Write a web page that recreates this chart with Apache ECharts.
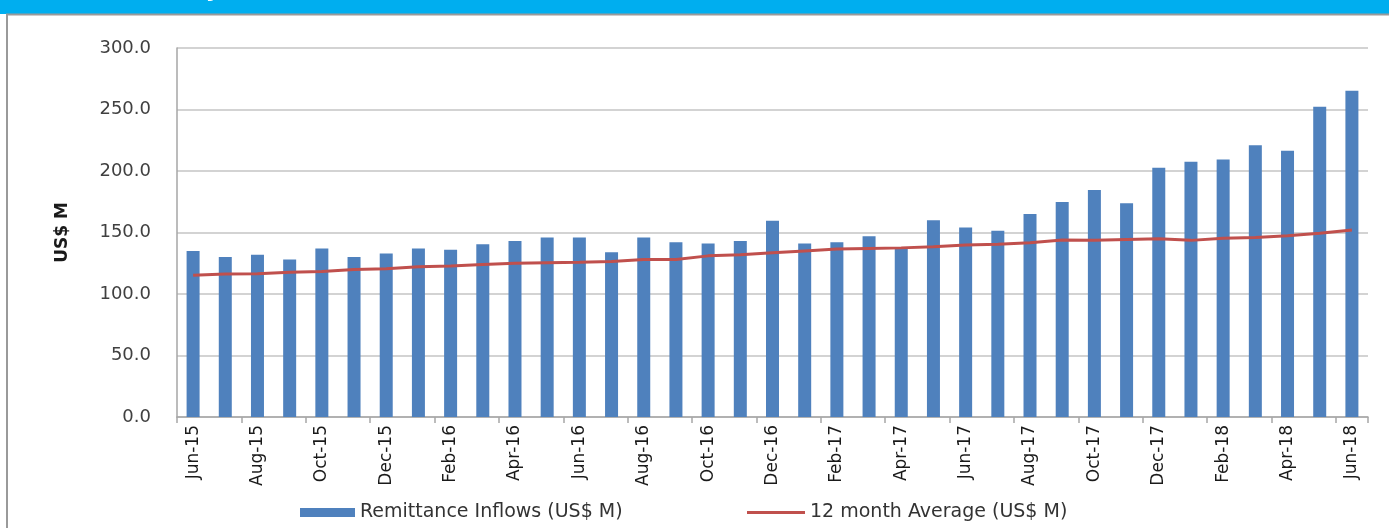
<!DOCTYPE html>
<html>
<head>
<meta charset="utf-8">
<script src="https://cdn.jsdelivr.net/npm/echarts@6/dist/echarts.min.js"></script>
<style>
  html, body { margin: 0; padding: 0; background: #fff; }
  #chart { width: 1389px; height: 528px; }
</style>
</head>
<body>
<div id="chart"></div>
<script>
// months shown on the x axis
const months = [
  'Jun-15', 'Jul-15', 'Aug-15', 'Sep-15', 'Oct-15', 'Nov-15', 'Dec-15',
  'Jan-16', 'Feb-16', 'Mar-16', 'Apr-16', 'May-16', 'Jun-16', 'Jul-16',
  'Aug-16', 'Sep-16', 'Oct-16', 'Nov-16', 'Dec-16', 'Jan-17', 'Feb-17',
  'Mar-17', 'Apr-17', 'May-17', 'Jun-17', 'Jul-17', 'Aug-17', 'Sep-17',
  'Oct-17', 'Nov-17', 'Dec-17', 'Jan-18', 'Feb-18', 'Mar-18', 'Apr-18',
  'May-18', 'Jun-18'
]

// remittance inflows (US$ M)
const inflows = [
  135, 130, 132, 128, 137, 130, 133,
  137, 136, 140.5, 143, 146, 146, 134,
  146, 142, 141, 143, 159.6, 141, 142,
  147, 137, 160, 154, 151.5, 165, 174.8,
  184.6, 173.7, 202.7, 207.6, 209.3, 221, 216.5,
  252.3, 265.3
]

// 12 month average (US$ M)
const avg12 = [
  115.2, 116.3, 116.5, 117.6, 118.2, 120, 120.6,
  122.2, 122.8, 124, 125, 125.4, 125.8, 126.5,
  128, 128, 131, 132, 133.5, 135, 136.5,
  137, 137.5, 138.5, 139.8, 140.4, 141.7, 143.9,
  143.6, 144.4, 145, 143.6, 145.3, 146, 147.4,
  149.3, 152
]

const seriesNames = ['Remittance Inflows (US$ M)', '12 month Average (US$ M)']

const chart = echarts.init(document.getElementById('chart'))

// shared legend look
const legendText = { fontFamily: 'DejaVu Sans', fontSize: 19, color: '#333' }

chart.setOption({
  animation: false,
  backgroundColor: '#ffffff',
  graphic: [
    // blue banner at the top, title mostly cut off
    { type: 'rect', left: 0, top: 0, shape: { width: 1389, height: 14 }, style: { fill: '#00AEEF' } },
    {
      type: 'text', x: 12, y: 2,
      style: {
        text: 'Chart 1: Monthly Remittance Inflows',
        fill: '#ffffff',
        font: 'bold 22px "DejaVu Sans"',
        textVerticalAlign: 'bottom'
      }
    },
    // frame of the chart box
    {
      type: 'rect', shape: { x: 7, y: 14.5, width: 1400, height: 530 },
      style: { fill: 'none', stroke: '#9a9a9a', lineWidth: 2 }
    }
  ],
  grid: {
    left: 177,
    right: 21,
    top: 48,
    bottom: 111
  },
  legend: [
    {
      left: 295,
      top: 498,
      itemWidth: 55,
      itemHeight: 9,
      textStyle: legendText,
      data: [{ name: seriesNames[0], icon: 'rect' }]
    },
    {
      left: 742,
      top: 498,
      itemWidth: 58,
      itemHeight: 9,
      textStyle: legendText,
      data: [{ name: seriesNames[1], icon: 'path://M0 0H60V3H0Z' }]
    }
  ],
  xAxis: {
    type: 'category',
    data: months,
    boundaryGap: true,
    axisLine: { lineStyle: { color: '#a6a6a6', width: 1.5 } },
    axisTick: { show: true, interval: 1, length: 6, lineStyle: { color: '#a6a6a6', width: 1.5 } },
    axisLabel: {
      interval: 1,
      rotate: 90,
      margin: 8,
      fontFamily: 'DejaVu Sans',
      fontSize: 17,
      color: '#1a1a1a'
    },
    splitLine: { show: false }
  },
  yAxis: {
    type: 'value',
    min: 0,
    max: 300,
    interval: 50,
    name: 'US$ M',
    nameLocation: 'middle',
    nameGap: 106,
    nameTextStyle: { fontFamily: 'DejaVu Sans', fontSize: 17, fontWeight: 'bold', color: '#1a1a1a' },
    axisLine: { show: true, lineStyle: { color: '#a6a6a6', width: 1.5 } },
    axisTick: { show: false },
    axisLabel: {
      margin: 26,
      fontFamily: 'DejaVu Sans',
      fontSize: 18,
      color: '#404040',
      formatter: v => v.toFixed(1)
    },
    splitLine: { lineStyle: { color: '#c4c4c4', width: 1.5 } }
  },
  series: [
    {
      name: seriesNames[0],
      type: 'bar',
      data: inflows,
      barWidth: 13,
      itemStyle: { color: '#4F81BD' }
    },
    {
      name: seriesNames[1],
      type: 'line',
      data: avg12,
      symbol: 'none',
      lineStyle: { color: '#C0504D', width: 3 },
      itemStyle: { color: '#C0504D' },
      z: 3
    }
  ]
})
</script>
</body>
</html>
